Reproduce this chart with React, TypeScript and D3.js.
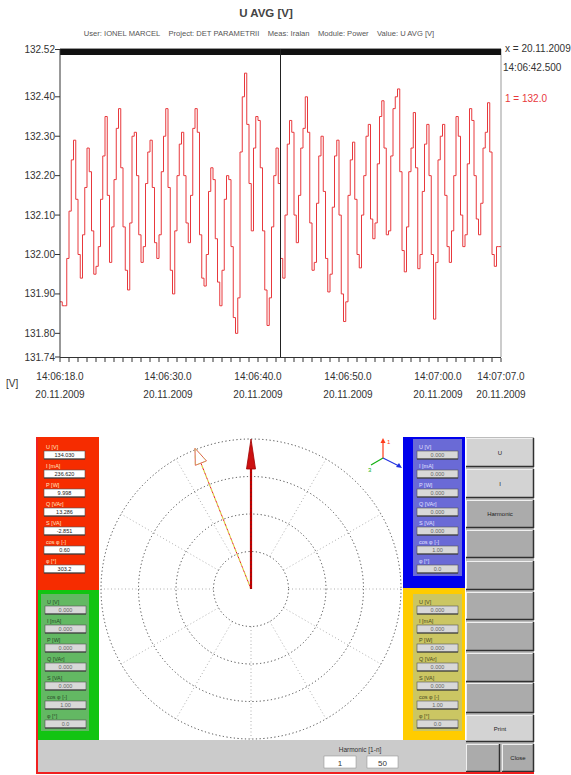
import React from 'react';
import * as d3 from 'd3';

// ---------- DATA ----------
const T0 = 18; // seconds after 14:06:00
const DT = 0.25; // sample interval (s)
const uValues = [
  131.88, 131.87, 131.87, 131.99, 132.11, 132.24, 132.29, 132.14, 132.00, 131.94,
  132.05, 132.17, 132.27, 132.21, 132.06, 131.95, 131.97, 132.02, 132.14, 132.25,
  132.35, 132.15, 131.98, 132.07, 132.19, 132.32, 132.37, 132.22, 132.07, 131.96,
  131.91, 132.08, 132.30, 132.31, 132.20, 132.05, 131.98, 132.02, 132.18, 132.26,
  132.29, 132.17, 132.03, 131.99, 132.05, 132.21, 132.30, 132.37, 132.17, 131.96,
  131.90, 132.06, 132.20, 132.28, 132.31, 132.20, 132.08, 132.03, 132.15, 132.32,
  132.37, 132.31, 132.05, 131.94, 131.92, 132.00, 132.16, 132.22, 132.19, 132.04,
  131.93, 131.87, 131.96, 132.14, 132.20, 132.19, 132.02, 131.84, 131.80, 131.89,
  132.26, 132.40, 132.46, 132.33, 132.18, 132.06, 132.27, 132.35, 132.34, 132.22,
  132.06, 131.91, 131.82, 131.89, 132.07, 132.20, 132.27, 132.18, 131.99, 131.94,
  132.10, 132.28, 132.34, 132.31, 132.10, 132.03, 132.15, 132.27, 132.32, 132.40,
  132.31, 132.08, 131.96, 131.98, 132.13, 132.25, 132.30, 132.16, 131.99, 131.905,
  131.95, 132.12, 132.25, 132.29, 132.10, 131.90, 131.83, 131.88, 132.15, 132.24,
  132.285, 132.14, 132.00, 131.966, 132.10, 132.20, 132.30, 132.33, 132.09, 132.04,
  132.08, 132.23, 132.35, 132.39, 132.27, 132.05, 132.06, 132.25, 132.37, 132.40,
  132.42, 132.21, 132.01, 131.956, 132.07, 132.21, 132.27, 132.36, 132.22, 131.964,
  132.00, 132.16, 132.28, 132.33, 132.20, 132.00, 131.836, 131.98, 132.24, 132.30,
  132.33, 132.15, 132.02, 131.98, 132.06, 132.20, 132.35, 132.30, 132.10, 132.02,
  132.05, 132.23, 132.37, 132.34, 132.20, 132.09, 132.05, 132.13, 132.27, 132.31,
  132.385, 132.26, 132.00, 131.97, 132.02, 132.02, 132.02,
];
const yTicks = [131.74, 131.8, 131.9, 132.0, 132.1, 132.2, 132.3, 132.4, 132.52];
const yTickLabels = ['131.74', '131.80', '131.90', '132.00', '132.10', '132.20', '132.30', '132.40', '132.52'];
const xLabelSeconds = [18, 30, 40, 50, 60, 67];
const xLabelTimes = ['14:06:18.0', '14:06:30.0', '14:06:40.0', '14:06:50.0', '14:07:00.0', '14:07:07.0'];
const xLabelDate = '20.11.2009';
const cursorSec = 42.5;
const title = 'U AVG [V]';
const subtitle = 'User: IONEL MARCEL    Project: DET PARAMETRII    Meas: Iralan    Module: Power    Value: U AVG [V]';
const cursorText = ['x = 20.11.2009', '14:06:42.500'];
const cursorValue = '1 = 132.0';

const rowLabels = ['U [V]', 'I [mA]', 'P [W]', 'Q [VAr]', 'S [VA]', 'cos \u03c6 [-]', '\u03c6 [\u00b0]'];
const redValues = ['134.030', '236.620', '9.998', '13.286', '-2.851', '0.60', '303.2'];
const greenValues = ['0.000', '0.000', '0.000', '0.000', '0.000', '1.00', '0.0'];
const blueValues = ['0.000', '0.000', '0.000', '0.000', '0.000', '1.00', '0.0'];
const yellowValues = ['0.000', '0.000', '0.000', '0.000', '0.000', '1.00', '0.0'];
const buttonLabels = ['U', 'I', 'Harmonic', '', '', '', '', '', '', 'Print'];
const bottomButtons = ['', 'Close'];
const harmonicLabel = 'Harmonic [1-n]';
const harmonicRange = ['1', '50'];
const ringLevels = [0.25, 0.5, 0.75, 1];
const vectorMag = [1.0, 1.01];
const vectorAngle = [90, 111.7]; // degrees, counter-clockwise from +x

const FONT = 'Liberation Sans, Arial, sans-serif';

function Panel({ x0, top, labels, values, labelColor, boxFill, textColor }) {
  return (
    <g>
      {labels.map((l, i) => {
        const by = top + i * 19;
        return (
          <g key={i}>
            <text x={x0 + 2} y={by - 2} fontSize={5.5} fill={labelColor} fontFamily={FONT}>{l}</text>
            <rect x={x0} y={by} width={41} height={8} fill={boxFill} stroke="#555" strokeWidth={0.6} />
            <line x1={x0} y1={by + 8} x2={x0 + 41} y2={by + 8} stroke="#333" strokeWidth={1} />
            <text x={x0 + 20.5} y={by + 6} fontSize={5.5} fill={textColor} textAnchor="middle" fontFamily={FONT}>{values[i]}</text>
          </g>
        );
      })}
    </g>
  );
}

function Button({ x, y, w, h, label, light }) {
  return (
    <g>
      <rect x={x} y={y} width={w} height={h} fill={light ? '#d3d3d3' : '#ababab'} />
      <line x1={x} y1={y + 0.5} x2={x + w} y2={y + 0.5} stroke="#f0f0f0" />
      <line x1={x + 0.5} y1={y} x2={x + 0.5} y2={y + h} stroke="#f0f0f0" />
      <line x1={x} y1={y + h - 0.5} x2={x + w} y2={y + h - 0.5} stroke="#303030" strokeWidth={1.5} />
      <line x1={x + w - 0.5} y1={y} x2={x + w - 0.5} y2={y + h} stroke="#303030" strokeWidth={1.5} />
      {label && (
        <text x={x + w / 2} y={y + h / 2 + 2} fontSize={6} textAnchor="middle" fill="#222" fontFamily={FONT}>{label}</text>
      )}
    </g>
  );
}

export default function App() {
  const x = d3.scaleLinear().domain([18, 67]).range([60, 501]);
  const y = d3.scaleLinear().domain([131.74, 132.52]).range([357, 49.5]);
  const pts = uValues.map((v, i) => [T0 + i * DT, v]);
  const line = d3.line().x((d) => x(d[0])).y((d) => y(d[1])).curve(d3.curveStepAfter);
  const secTicks = d3.range(18, 68, 1);

  // polar
  const cx = 251, cy = 589;
  const r = d3.scaleLinear().domain([0, 1]).range([0, 150]);
  const radials = d3.range(0, 360, 30);
  const pol = (m, deg) => {
    const a = (deg * Math.PI) / 180;
    return [cx + r(m) * Math.cos(a), cy - r(m) * Math.sin(a)];
  };
  const arrowHead = (m, deg, len, half) => {
    const a = (deg * Math.PI) / 180;
    const [tx, ty] = pol(m, deg);
    const dx = Math.cos(a), dy = -Math.sin(a);
    const bx = tx - dx * len, by = ty - dy * len;
    const px = -dy, py = dx;
    return `${tx},${ty} ${bx + px * half},${by + py * half} ${bx - px * half},${by - py * half}`;
  };
  const uTip = pol(vectorMag[0], vectorAngle[0]);
  const iTip = pol(vectorMag[1] - 0.05, vectorAngle[1]);

  const btnY = [438, 469, 500, 530, 561, 592, 622, 653, 683, 715];
  const btnH = [29, 29, 28, 28, 29, 28, 29, 29, 30, 27];

  return (
    <svg width={571} height={775} style={{ position: 'absolute', left: 0, top: 0, background: '#fff' }}>
      {/* title */}
      <text x={266} y={17} fontSize={11.5} fontWeight="bold" textAnchor="middle" fill="#444" fontFamily={FONT}>{title}</text>
      <text x={259} y={35.5} fontSize={7.6} textAnchor="middle" fill="#555" fontFamily={FONT} xmlSpace="preserve">{subtitle}</text>

      {/* plot frame */}
      <line x1={501} y1={49} x2={501} y2={357} stroke="#999" />
      <path d={line(pts)} fill="none" stroke="#e8383c" strokeWidth={1} />
      <rect x={60} y={49} width={441} height={6} fill="#111" />
      <line x1={60} y1={48.5} x2={501} y2={48.5} stroke="#999" />
      <line x1={x(cursorSec)} y1={49} x2={x(cursorSec)} y2={357} stroke="#222" strokeWidth={1} />
      <line x1={60} y1={49} x2={60} y2={358} stroke="#333" />
      <line x1={60} y1={357.5} x2={501} y2={357.5} stroke="#333" />

      {/* y axis */}
      {yTicks.map((t, i) => (
        <g key={t}>
          <line x1={55} y1={y(t)} x2={60} y2={y(t)} stroke="#333" />
          <text x={55} y={y(t) + 3.5} fontSize={10} textAnchor="end" fill="#333" fontFamily={FONT}>{yTickLabels[i]}</text>
        </g>
      ))}
      {/* x axis ticks */}
      {secTicks.map((s) => (
        <line key={s} x1={x(s)} y1={358} x2={x(s)} y2={362} stroke="#333" />
      ))}
      {xLabelSeconds.map((s, i) => (
        <g key={s}>
          <text x={x(s)} y={380} fontSize={10} textAnchor="middle" fill="#333" fontFamily={FONT}>{xLabelTimes[i]}</text>
          <text x={x(s)} y={398} fontSize={10} textAnchor="middle" fill="#333" fontFamily={FONT}>{xLabelDate}</text>
        </g>
      ))}
      <text x={6} y={387} fontSize={10} fill="#333" fontFamily={FONT}>[V]</text>

      {/* cursor readout */}
      <text x={505} y={52} fontSize={10} fill="#333" fontFamily={FONT}>{cursorText[0]}</text>
      <text x={503} y={71} fontSize={10} fill="#333" fontFamily={FONT}>{cursorText[1]}</text>
      <text x={505} y={102} fontSize={10} fill="#e8383c" fontFamily={FONT}>{cursorValue}</text>

      {/* ---------- lower UI panel ---------- */}
      <rect x={99} y={437} width={304} height={303} fill="#fff" />
      {/* left panels */}
      <rect x={37} y={437} width={62} height={153} fill="#f62c00" />
      <rect x={37} y={590} width={62} height={150} fill="#12c412" />
      <rect x={41} y={594} width={48} height={137} fill="#63b863" />
      <Panel x0={44} top={451} labels={rowLabels} values={redValues} labelColor="#ffe8c0" boxFill="#ffffff" textColor="#222" />
      <Panel x0={45} top={606} labels={rowLabels} values={greenValues} labelColor="#2a4a2a" boxFill="#d8d8d8" textColor="#666" />
      {/* right panels */}
      <rect x={403} y={437} width={62} height={151} fill="#0000ec" />
      <rect x={413} y={439} width={49} height={137} fill="#6a6ad6" />
      <rect x={403} y={588} width={62} height={152} fill="#ffcc00" />
      <rect x={413} y={594} width={49} height={137} fill="#cbc663" />
      <Panel x0={417} top={451} labels={rowLabels} values={blueValues} labelColor="#e0e0ff" boxFill="#d8d8d8" textColor="#666" />
      <Panel x0={417} top={606} labels={rowLabels} values={yellowValues} labelColor="#4a4a20" boxFill="#d8d8d8" textColor="#666" />

      {/* bottom bar */}
      <rect x={37} y={740} width={429} height={33} fill="#cbcbcb" />
      <text x={360} y={752} fontSize={6.5} textAnchor="middle" fill="#333" fontFamily={FONT}>{harmonicLabel}</text>
      <rect x={324} y={756} width={32} height={12} fill="#fff" stroke="#888" strokeWidth={0.5} />
      <rect x={367} y={756} width={31} height={12} fill="#fff" stroke="#888" strokeWidth={0.5} />
      <text x={340} y={765.5} fontSize={8} textAnchor="middle" fill="#333" fontFamily={FONT}>{harmonicRange[0]}</text>
      <text x={382.5} y={765.5} fontSize={8} textAnchor="middle" fill="#333" fontFamily={FONT}>{harmonicRange[1]}</text>

      {/* buttons */}
      <rect x={466} y={437} width={68} height={336} fill="#bcbcbc" />
      {buttonLabels.map((b, i) => (
        <Button key={i} x={466} y={btnY[i]} w={68} h={btnH[i]} label={b} light={i < 2 || i === 9} />
      ))}
      <Button x={466} y={744} w={34} h={28} label={bottomButtons[0]} light={false} />
      <Button x={502} y={744} w={32} h={28} label={bottomButtons[1]} light={false} />

      {/* borders */}
      <rect x={36} y={437} width={2} height={337} fill="#f02020" />
      <rect x={36} y={772} width={498} height={2} fill="#f02020" />

      {/* polar diagram */}
      {radials.map((deg) => {
        const [x1, y1] = pol(0.25, deg);
        const [x2, y2] = pol(1, deg);
        return <line key={deg} x1={x1} y1={y1} x2={x2} y2={y2} stroke="#9a9a9a" strokeWidth={0.8} strokeDasharray="1,2.5" />;
      })}
      {ringLevels.map((lv) => (
        <circle key={lv} cx={cx} cy={cy} r={r(lv)} fill="none" stroke="#444" strokeWidth={1} strokeDasharray="1.2,2.5" />
      ))}
      {/* I vector (hollow head, dashed) */}
      <line x1={cx} y1={cy} x2={iTip[0]} y2={iTip[1]} stroke="#d8d040" strokeWidth={1.2} strokeDasharray="3,2" />
      <line x1={cx} y1={cy} x2={iTip[0]} y2={iTip[1]} stroke="#e82020" strokeWidth={1} strokeDasharray="2,3" strokeDashoffset={2} />
      <polygon points={arrowHead(vectorMag[1], vectorAngle[1], 16, 6)} fill="#fff" stroke="#e06050" strokeWidth={1} />
      <polygon points={arrowHead(vectorMag[1], vectorAngle[1], 16, 6)} fill="none" stroke="#c8c860" strokeWidth={0.6} strokeDasharray="3,3" />
      {/* U vector */}
      <line x1={cx} y1={cy} x2={uTip[0]} y2={uTip[1] + 20} stroke="#c00000" strokeWidth={2.2} />
      <polygon points={arrowHead(vectorMag[0], vectorAngle[0], 30, 4.5)} fill="#cc1010" stroke="#a00000" strokeWidth={0.8} />
      <line x1={cx} y1={cy} x2={cx} y2={cy - 120} stroke="#333" strokeWidth={0.5} strokeDasharray="1,3" />

      {/* axis icon */}
      <line x1={383} y1={458} x2={383} y2={441} stroke="#ff3a1a" strokeWidth={1.2} />
      <polygon points="383,438 380.5,443 385.5,443" fill="#ff3a1a" />
      <text x={387} y={444} fontSize={6} fill="#ff3a1a" fontFamily={FONT}>1</text>
      <line x1={383} y1={458} x2={371} y2={465} stroke="#10b010" strokeWidth={1.2} />
      <text x={368} y={472} fontSize={6} fill="#10b010" fontFamily={FONT}>3</text>
      <line x1={383} y1={458} x2={399} y2={466} stroke="#2030e0" strokeWidth={1.2} />
      <polygon points="402,468 396,467 399,463" fill="#2030e0" />
    </svg>
  );
}
